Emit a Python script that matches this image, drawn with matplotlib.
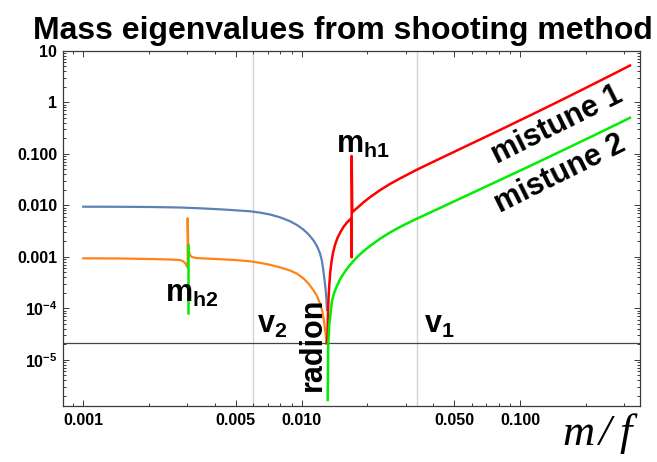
#!/usr/bin/env python3
"""Mass eigenvalues from shooting method: log-log plot of the eigenvalue branches vs m/f."""
import matplotlib

matplotlib.use("Agg")
import matplotlib.pyplot as plt
from matplotlib.ticker import FixedLocator, NullFormatter

# branch values (m/f, mass eigenvalue)
blue_x = [0.001, 0.001472, 0.00202, 0.002772, 0.003422, 0.004455, 0.0058, 0.006444,
          0.007158, 0.007955, 0.008839, 0.009517, 0.01017, 0.010742, 0.011298,
          0.011749, 0.012129, 0.012385, 0.012558, 0.01273, 0.01288, 0.012991, 0.013056]
blue_y = [0.009352, 0.009309, 0.009226, 0.009021, 0.008703, 0.008213, 0.007613,
          0.007182, 0.006597, 0.005821, 0.004889, 0.004125, 0.003375, 0.002723, 0.00211,
          0.001613, 0.001164, 0.000825, 0.000552, 0.000353, 0.000226, 0.000144, 9.23e-5]

orange_x = [0.001, 0.001472, 0.00202, 0.002495, 0.002772, 0.002876, 0.002937, 0.002978,
            0.003006, 0.003006, 0.003025, 0.003048, 0.003081, 0.003145, 0.003281,
            0.003607, 0.00408, 0.00495, 0.0058, 0.006444, 0.007158, 0.007955, 0.008839,
            0.009517, 0.01017, 0.010742, 0.011298, 0.011749, 0.012129, 0.012451,
            0.012692, 0.012866, 0.013018]
orange_y = [0.000931, 0.000923, 0.000902, 0.000882, 0.000863, 0.000807, 0.000738, 0.00066,
            0.00062, 0.005566, 0.001613, 0.001234, 0.001065, 0.000987, 0.000944,
            0.000923, 0.000902, 0.000863, 0.000814, 0.000761, 0.000696, 0.000622, 0.00054,
            0.000468, 0.000381, 0.000302, 0.000226, 0.000173, 0.000124, 8.44e-5,
            5.09e-5, 3.3e-5, 2.08e-5]

red_x = [0.013018, 0.013124, 0.013183, 0.013265, 0.013379, 0.013521, 0.01369, 0.01391,
         0.014208, 0.014585, 0.015056, 0.015539, 0.016122, 0.016643, 0.016851, 0.01694,
         0.01694, 0.01705, 0.017539, 0.0183, 0.019148, 0.020549, 0.022828, 0.025362,
         0.028184, 0.03383, 0.04297, 0.058965, 0.08091, 0.11099, 0.15227, 0.20897,
         0.27196, 0.31856]
red_y = [2.08e-5, 3.02e-5, 6.45e-5, 0.000144, 0.000282, 0.000505, 0.000789, 0.00118,
         0.001687, 0.002307, 0.003017, 0.003773, 0.004613, 0.005277, 0.005493, 0.000973,
         0.09021, 0.00728, 0.00814, 0.009478, 0.01128, 0.014294, 0.019557, 0.025805,
         0.032996, 0.049329, 0.08033, 0.15221, 0.28857, 0.55177, 1.0646, 2.0814,
         3.6565, 5.1582]

green_x = [0.013152, 0.013183, 0.01321, 0.013237, 0.013308, 0.013406, 0.013549, 0.013763,
           0.014057, 0.014464, 0.014977, 0.015621, 0.016293, 0.01694, 0.01786, 0.019086,
           0.020549, 0.022828, 0.025362, 0.028184, 0.031325, 0.03383, 0.04297, 0.058965,
           0.08091, 0.11099, 0.15227, 0.20897, 0.27196, 0.31856]
green_y = [1.65e-6, 4.03e-6, 9.87e-6, 2.08e-5, 3.3e-5, 5.16e-5, 7.72e-5, 0.000138,
           0.000193, 0.000264, 0.000361, 0.000483, 0.000617, 0.000755, 0.000965, 0.001256,
           0.001613, 0.002226, 0.002951, 0.003773, 0.004717, 0.005517, 0.008823, 0.016501,
           0.030852, 0.0577, 0.10933, 0.20822, 0.35752, 0.49774]

# short green piece at the m_h2 resonance
green_h2_x = [0.003006, 0.003006]
green_h2_y = [0.00169, 8.2e-5]

v2_position = 0.006
v1_position = 0.0338
threshold = 2.08e-5

x_major = [0.001, 0.005, 0.01, 0.05, 0.1]
x_major_labels = ["0.001", "0.005", "0.010", "0.050", "0.100"]
y_major = [1e-5, 1e-4, 1e-3, 1e-2, 1e-1, 1, 10]
y_major_labels = [r"$\mathbf{10^{-5}}$", r"$\mathbf{10^{-4}}$", "0.001", "0.010",
                  "0.100", "1", "10"]

COLOR_BLUE = "#5e81b5"
COLOR_ORANGE = "#ff8418"
COLOR_RED = "#ff0000"
COLOR_GREEN = "#00ee00"
COLOR_GRID = "#d4d4d4"
COLOR_FRAME = "#3a3a3a"

plt.rcParams["font.family"] = ["Liberation Sans", "DejaVu Sans"]
plt.rcParams["font.weight"] = "bold"
plt.rcParams["mathtext.fontset"] = "custom"
plt.rcParams["mathtext.rm"] = "Liberation Sans:bold"
plt.rcParams["mathtext.bf"] = "Liberation Sans:bold"
plt.rcParams["mathtext.it"] = "Liberation Sans:bold:italic"


def minor_positions(lo_exp, hi_exp, skip):
    ticks = []
    for e in range(lo_exp, hi_exp + 1):
        for k in range(2, 10):
            v = k * 10.0 ** e
            if not any(abs(v - s) / s < 1e-6 for s in skip):
                ticks.append(v)
    return ticks


def main():
    fig = plt.figure(figsize=(6.57, 4.62), dpi=100)
    ax = fig.add_axes([0.0954, 0.1219, 0.8787, 0.7684])

    ax.set_xscale("log")
    ax.set_yscale("log")
    ax.set_xlim(0.000805, 0.354)
    ax.set_ylim(1.28e-6, 10)

    ax.axvline(v2_position, color=COLOR_GRID, lw=1.0, zorder=1)
    ax.axvline(v1_position, color=COLOR_GRID, lw=1.0, zorder=1)
    ax.axhline(threshold, color="#444444", lw=0.9, zorder=1)

    ax.plot(blue_x, blue_y, color=COLOR_BLUE, lw=1.6, zorder=3)
    ax.plot(orange_x, orange_y, color=COLOR_ORANGE, lw=1.6, zorder=3)
    ax.plot(red_x, red_y, color=COLOR_RED, lw=1.8, zorder=4)
    ax.plot(green_x, green_y, color=COLOR_GREEN, lw=1.8, zorder=5)
    ax.plot(green_h2_x, green_h2_y, color=COLOR_GREEN, lw=1.8, zorder=5)

    # ticks in Mathematica frame style
    ax.xaxis.set_major_locator(FixedLocator(x_major))
    ax.set_xticklabels(x_major_labels)
    ax.xaxis.set_minor_locator(FixedLocator(minor_positions(-4, -1, x_major)))
    ax.xaxis.set_minor_formatter(NullFormatter())
    ax.yaxis.set_major_locator(FixedLocator(y_major))
    ax.set_yticklabels(y_major_labels)
    ax.yaxis.set_minor_locator(FixedLocator(minor_positions(-6, 0, y_major)))
    ax.yaxis.set_minor_formatter(NullFormatter())
    ax.tick_params(which="both", direction="in", top=True, right=True,
                   color=COLOR_FRAME, width=0.7, labelsize=11.5)
    ax.tick_params(which="major", length=4)
    ax.tick_params(which="minor", length=2.2)
    ax.tick_params(axis="x", pad=5)
    ax.tick_params(axis="y", pad=4)
    for spine in ax.spines.values():
        spine.set_color(COLOR_FRAME)
        spine.set_linewidth(0.9)

    label_kw = dict(fontsize=22, fontweight="bold", color="black", zorder=6)
    ax.text(0.00237, 1.34e-4, r"$\mathbf{m_{h2}}$", ha="left", va="baseline", **label_kw)
    ax.text(0.01435, 0.102, r"$\mathbf{m_{h1}}$", ha="left", va="baseline", **label_kw)
    ax.text(0.00622, 3.26e-5, r"$\mathbf{v_{2}}$", ha="left", va="baseline", **label_kw)
    ax.text(0.0363, 3.26e-5, r"$\mathbf{v_{1}}$", ha="left", va="baseline", **label_kw)
    ax.text(0.0132, 2.0e-5, "radion", rotation=90, ha="right", va="center", **label_kw)
    ax.text(0.148, 0.355, "mistune 1", rotation=26.5, rotation_mode="anchor",
            ha="center", va="center", **label_kw)
    ax.text(0.152, 0.040, "mistune 2", rotation=26.5, rotation_mode="anchor",
            ha="center", va="center", **label_kw)

    fig.text(0.522, 1 - 39 / 462, "Mass eigenvalues from shooting method",
             ha="center", va="baseline", fontsize=23, fontweight="bold")
    # axis label m/f, spaced like the Mathematica TraditionalForm output
    serif_kw = dict(fontsize=32, family=["Liberation Serif", "DejaVu Serif"],
                    style="italic", fontweight="normal", va="baseline")
    label_base = 1 - 445 / 462
    fig.text(562 / 657, label_base, "m", ha="left", **serif_kw)
    fig.text(604 / 657, label_base, "/", ha="center", **serif_kw)
    fig.text(626 / 657, label_base, "f", ha="center", **serif_kw)

    fig.savefig("out.png", dpi=100)
    plt.close(fig)


if __name__ == "__main__":
    main()
